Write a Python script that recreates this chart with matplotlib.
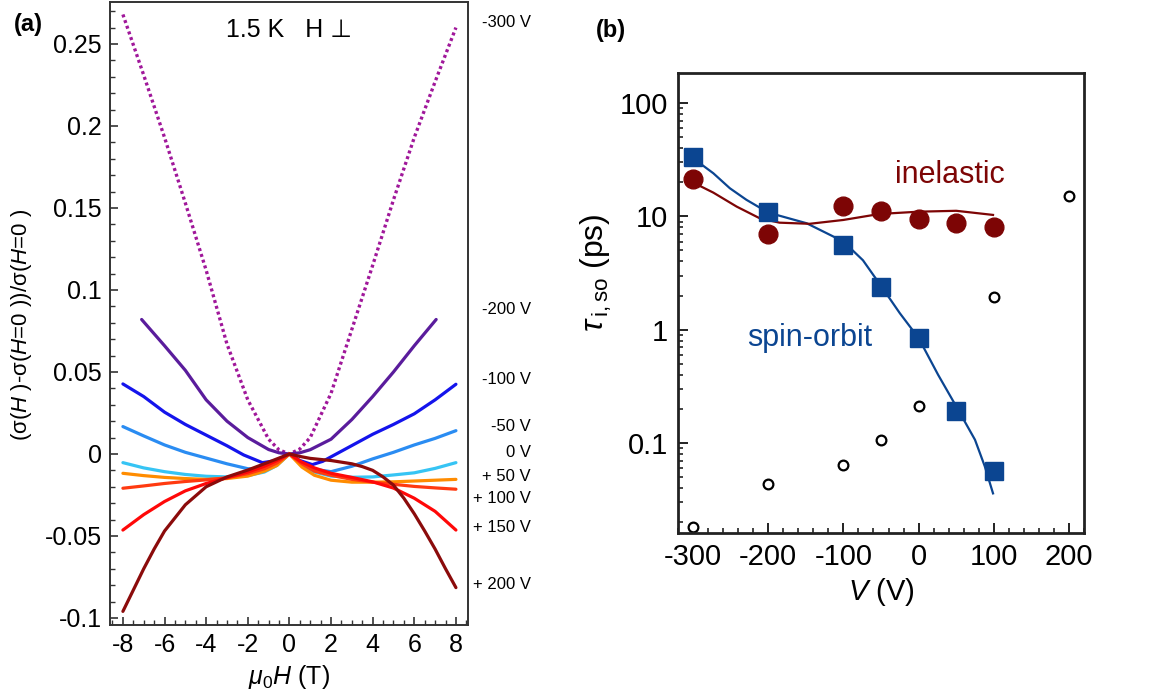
import matplotlib
matplotlib.use("Agg")
import matplotlib.pyplot as plt
import numpy as np
from matplotlib.ticker import MultipleLocator, LogLocator, NullFormatter, FixedLocator

plt.rcParams['font.family'] = ['Liberation Sans', 'DejaVu Sans']
plt.rcParams['mathtext.fontset'] = 'custom'
plt.rcParams['mathtext.rm'] = 'Liberation Sans'
plt.rcParams['mathtext.it'] = 'Liberation Sans:italic'
plt.rcParams['mathtext.bf'] = 'Liberation Sans:bold'
plt.rcParams['axes.unicode_minus'] = False

# ---------------- Panel (a) data: (sigma(H)-sigma(0))/sigma(0) vs mu0H ----------------
voltages = ['-300 V', '-200 V', '-100 V', '-50 V', '0 V', '+ 50 V', '+ 100 V', '+ 150 V', '+ 200 V']
colors_a = ['#a0179a', '#5a1c9c', '#1414ec', '#2a8cf2', '#36c4f4', '#ff8c00', '#ff3a10', '#ff0808', '#8b0b0b']

H_m300 = [-8.0, -7.0, -6.0, -5.0, -4.0, -3.0, -2.0, -1.0, -0.5, 0.0, 0.5, 1.0, 2.0, 3.0, 4.0, 5.0, 6.0, 7.0, 8.0]
G_m300 = [0.268, 0.231, 0.193, 0.153, 0.112, 0.067, 0.033, 0.009, 0.0025, 0.0, 0.003, 0.010, 0.037, 0.076, 0.115, 0.155, 0.193, 0.227, 0.260]

H_m200 = [-7.1, -6.0, -5.0, -4.0, -3.0, -2.0, -1.0, -0.5, 0.0, 0.5, 1.0, 2.0, 3.0, 4.0, 5.0, 6.0, 7.05]
G_m200 = [0.082, 0.066, 0.051, 0.033, 0.020, 0.010, 0.0027, 0.0007, 0.0, 0.0007, 0.0026, 0.009, 0.021, 0.035, 0.050, 0.066, 0.082]

H_m100 = [-8.0, -7.0, -6.0, -5.0, -4.0, -3.0, -2.2, -1.3, -0.6, 0.0, 0.5, 1.1, 1.6, 2.4, 3.2, 4.0, 5.0, 6.0, 7.0, 8.0]
G_m100 = [0.0427, 0.035, 0.0255, 0.018, 0.0115, 0.005, -0.0006, -0.0053, -0.004, 0.0, -0.004, -0.0065, -0.0045, 0.001, 0.0065, 0.012, 0.018, 0.0245, 0.033, 0.0425]

H_m50 = [-8.0, -7.0, -6.0, -5.0, -4.0, -3.0, -2.0, -1.2, -0.6, 0.0, 0.5, 1.0, 2.0, 3.0, 4.0, 5.0, 6.0, 7.0, 8.0]
G_m50 = [0.0167, 0.011, 0.0055, 0.001, -0.0025, -0.006, -0.009, -0.0095, -0.006, 0.0, -0.005, -0.009, -0.0108, -0.0075, -0.003, 0.001, 0.0055, 0.0095, 0.0142]

H_0 = [-8.0, -7.0, -6.0, -5.0, -4.0, -3.0, -2.0, -1.2, -0.6, 0.0, 0.6, 1.2, 2.0, 3.0, 4.0, 5.0, 6.0, 7.0, 8.0]
G_0 = [-0.0053, -0.0085, -0.0108, -0.0125, -0.0136, -0.014, -0.0132, -0.011, -0.007, 0.0, -0.007, -0.011, -0.0135, -0.0142, -0.014, -0.0128, -0.0115, -0.0088, -0.0053]

H_p50 = [-8.0, -7.0, -6.0, -5.0, -4.0, -3.0, -2.0, -1.2, -0.6, 0.0, 0.6, 1.2, 2.0, 3.0, 4.0, 5.0, 6.0, 7.0, 8.0]
G_p50 = [-0.0118, -0.0132, -0.0143, -0.015, -0.0155, -0.015, -0.0135, -0.0105, -0.007, 0.0, -0.008, -0.013, -0.016, -0.0172, -0.0172, -0.017, -0.0165, -0.016, -0.0155]

H_p100 = [-8.0, -7.0, -6.0, -5.0, -4.0, -3.0, -2.0, -1.2, -0.6, 0.0, 0.6, 1.2, 2.0, 3.0, 4.0, 5.0, 6.0, 7.0, 8.0]
G_p100 = [-0.0209, -0.0195, -0.018, -0.0168, -0.0158, -0.0145, -0.012, -0.009, -0.0055, 0.0, -0.006, -0.0105, -0.013, -0.0155, -0.0172, -0.0185, -0.0198, -0.0207, -0.0215]

H_p150 = [-8.0, -7.0, -6.0, -5.0, -4.0, -3.0, -2.0, -1.2, -0.6, 0.0, 0.6, 1.2, 2.0, 3.0, 4.0, 5.0, 6.0, 7.0, 8.0]
G_p150 = [-0.0464, -0.037, -0.029, -0.0225, -0.018, -0.0145, -0.011, -0.0075, -0.004, 0.0, -0.005, -0.0085, -0.0118, -0.0143, -0.017, -0.0208, -0.027, -0.035, -0.0464]

H_p200 = [-8.0, -7.5, -7.0, -6.5, -6.0, -5.0, -4.0, -3.0, -2.0, -1.0, -0.5, 0.0, 0.5, 1.0, 2.0, 3.0, 3.5, 4.0, 4.5, 5.0, 5.5, 6.0, 6.5, 7.0, 7.5, 8.0]
G_p200 = [-0.096, -0.083, -0.070, -0.058, -0.047, -0.031, -0.020, -0.014, -0.0098, -0.005, -0.0025, 0.0, -0.0015, -0.0027, -0.004, -0.006, -0.0077, -0.010, -0.014, -0.019, -0.027, -0.0365, -0.047, -0.058, -0.070, -0.0815]

H_all = [H_m300, H_m200, H_m100, H_m50, H_0, H_p50, H_p100, H_p150, H_p200]
G_all = [G_m300, G_m200, G_m100, G_m50, G_0, G_p50, G_p100, G_p150, G_p200]

# right-hand label heights (in data units of panel a)
label_y = [0.2634, 0.0878, 0.0451, 0.0165, 0.0006, -0.014, -0.0274, -0.0451, -0.0799]

# ---------------- Panel (b) data ----------------
V_pts = [-300, -200, -100, -50, 0, 50, 100]
tau_so = [33.6, 11.0, 5.6, 2.4, 0.845, 0.19, 0.0564]
tau_i = [21.4, 7.0, 12.4, 11.2, 9.4, 8.8, 8.1]
V_open = [-300, -200, -100, -50, 0, 100, 200]
tau_open = [0.0183, 0.044, 0.0638, 0.107, 0.214, 1.94, 15.2]

V_fit_so = [-300, -273, -251, -229, -200, -149, -100, -74, -49.5, -25, 0, 26, 50, 75, 88, 99]
tau_fit_so = [32.6, 24.0, 17.7, 14.0, 10.8, 8.7, 6.0, 4.1, 2.41, 1.40, 0.845, 0.40, 0.211, 0.107, 0.0625, 0.036]
V_fit_i = [-300, -273, -242, -211, -185, -145, -100, -52, 0, 50, 99]
tau_fit_i = [19.9, 16.2, 12.2, 9.6, 8.8, 8.6, 9.3, 10.5, 11.0, 11.2, 10.3]

blue = '#0b4591'
maroon = '#7d0505'

W, Hh = 1164, 697
fig = plt.figure(figsize=(W / 100, Hh / 100), dpi=100)

def ax_rect(x0, y0, x1, y1):
    return [x0 / W, 1 - y1 / Hh, (x1 - x0) / W, (y1 - y0) / Hh]

# ---------------- Panel (a) ----------------
axa = fig.add_axes(ax_rect(110, 2, 468, 625))
for i, (h, g) in enumerate(zip(H_all, G_all)):
    if i == 0:
        axa.plot(h, g, color=colors_a[i], lw=2.4, dashes=(0.9, 0.9))
    else:
        axa.plot(h, g, color=colors_a[i], lw=2.3, solid_capstyle='round', solid_joinstyle='round')
axa.set_xlim(-8.62, 8.58)
axa.set_ylim(-0.1043, 0.2756)
axa.xaxis.set_major_locator(FixedLocator([-8, -6, -4, -2, 0, 2, 4, 6, 8]))
axa.xaxis.set_minor_locator(MultipleLocator(0.5))
axa.yaxis.set_major_locator(FixedLocator([-0.1, -0.05, 0, 0.05, 0.1, 0.15, 0.2, 0.25]))
axa.yaxis.set_minor_locator(MultipleLocator(0.01))
axa.set_yticklabels(['-0.1', '-0.05', '0', '0.05', '0.1', '0.15', '0.2', '0.25'])
axa.set_xticklabels(['-8', '-6', '-4', '-2', '0', '2', '4', '6', '8'])
axa.tick_params(which='both', direction='in', top=False, right=False, labelsize=18, color='#333333')
axa.tick_params(which='major', length=6, width=1.2, pad=6)
axa.tick_params(which='minor', length=3.5, width=1.0)
for s in axa.spines.values():
    s.set_linewidth(1.4)
    s.set_color('#333333')
axa.set_xlabel(r'$\mu_0H$ (T)', fontsize=18, labelpad=4)
axa.set_ylabel('(σ($H$ )-σ($H$=$\\mathit{0}$ ))/σ($H$=$\\mathit{0}$ )', fontsize=16)
axa.yaxis.set_label_coords(-0.212, 0.482)
axa.text(0.5, 0.955, '1.5 K   H \u22a5', transform=axa.transAxes, ha='center', va='center', fontsize=18)
for lab, yv in zip(voltages, label_y):
    axa.text((531 - 110) / 358, yv, lab, transform=axa.get_yaxis_transform(), ha='right', va='center',
             fontsize=12, clip_on=False)

# ---------------- Panel (b) ----------------
axb = fig.add_axes(ax_rect(678, 73, 1084, 533))
axb.set_yscale('log')
axb.plot(V_fit_so, tau_fit_so, color=blue, lw=1.6)
axb.plot(V_fit_i, tau_fit_i, color=maroon, lw=1.6)
axb.plot(V_open, tau_open, 'o', ms=7, mfc='white', mec='black', mew=1.6, ls='none')
axb.plot(V_pts, tau_i, 'o', ms=13.5, color=maroon, ls='none')
axb.plot(V_pts, tau_so, 's', ms=12.5, color=blue, ls='none')
axb.set_xlim(-320, 220)
axb.set_ylim(0.0161, 184)
axb.xaxis.set_major_locator(FixedLocator([-300, -200, -100, 0, 100, 200]))
axb.set_xticklabels(['-300', '-200', '-100', '0', '100', '200'])
axb.xaxis.set_minor_locator(MultipleLocator(20))
axb.yaxis.set_major_locator(FixedLocator([0.1, 1, 10, 100]))
axb.set_yticklabels(['0.1', '1', '10', '100'])
axb.yaxis.set_minor_locator(LogLocator(base=10, subs=np.arange(2, 10)))
axb.yaxis.set_minor_formatter(NullFormatter())
axb.tick_params(which='both', direction='in', top=False, right=False, labelsize=21, color='#222222')
axb.tick_params(which='major', length=7, width=1.4, pad=7)
axb.tick_params(which='minor', length=3.5, width=1.2)
for s in axb.spines.values():
    s.set_linewidth(2.0)
    s.set_color('#222222')
axb.set_xlabel(r'$V$ (V)', fontsize=21, labelpad=4)
axb.set_ylabel(r'$\tau_{\,\mathrm{i,so}}$ (ps)', fontsize=23)
axb.yaxis.set_label_coords(-0.158, 0.565)
axb.text(-31, 23, 'inelastic', color=maroon, fontsize=22, ha='left', va='center')
axb.text(-228, 0.85, 'spin-orbit', color=blue, fontsize=22, ha='left', va='center')

fig.text(28 / W, 1 - 24 / Hh, '(a)', fontsize=17, fontweight='bold', ha='center', va='center')
fig.text(611 / W, 1 - 31 / Hh, '(b)', fontsize=17, fontweight='bold', ha='center', va='center')

fig.savefig('out.png', dpi=100)
